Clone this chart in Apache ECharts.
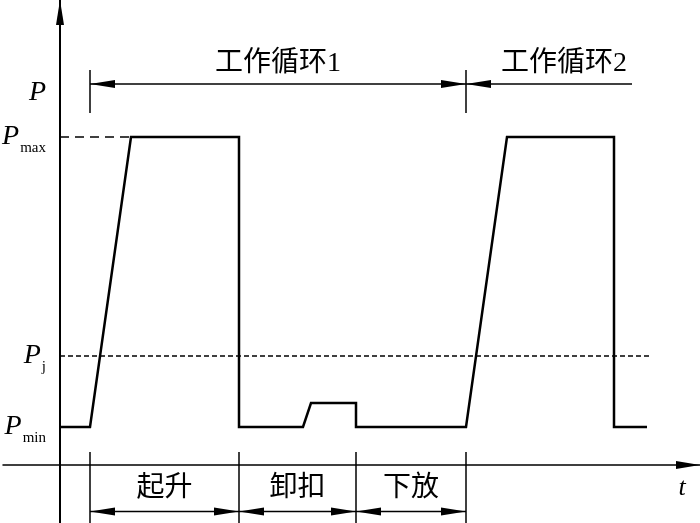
<!DOCTYPE html>
<html>
<head>
<meta charset="utf-8">
<script src="https://cdn.jsdelivr.net/npm/echarts@6/dist/echarts.min.js"></script>
<style>
  html, body { margin: 0; background: #fff; }
  #chart { width: 700px; height: 523px; }
</style>
</head>
<body>
<div id="chart"></div>
<script>
// load curve P(t), schematic units
const waveT = [0, 30, 71, 179, 179, 243, 251, 296, 296, 406, 447, 554, 554, 587];
const waveP = [38, 38, 328, 328, 38, 38, 62, 62, 38, 38, 328, 328, 38, 38];
const pMin = 38, pJ = 109, pMax = 328;
const pMaxEnd = 71, pJEnd = 591;
// y axis labels
const yLabelValues = [38, 109, 328, 372];
const yLabelSubs = ['min', 'j', 'max', ''];
// phases of one cycle (bottom) and cycles (top)
const phaseT = [30, 179, 296, 406];
const phaseNames = ['起升', '卸扣', '下放'];
const cycleT = [30, 406, 572];
const cycleNames = ['工作循环1', '工作循环2'];

const black = '#000';
const serif = 'Liberation Serif';
const cjk = '"Liberation Serif", "Noto Sans CJK SC"';

// dimension heights
const topDimP = 381, topTick = [352, 395], topTextP = 401;
const botDimP = -46.5, botTick = [-58, 13], botTextP = -24;

const dims = [];
const ticks = [];
const texts = [];
cycleNames.forEach((n, i) => {
  dims.push([cycleT[i], cycleT[i + 1], topDimP, 1, i === 0 ? 1 : 0]);
  texts.push([i === 0 ? 218 : 504, topTextP, n]);
});
[cycleT[0], cycleT[1]].forEach(t => ticks.push([t, topTick[0], topTick[1]]));
phaseNames.forEach((n, i) => {
  dims.push([phaseT[i], phaseT[i + 1], botDimP, 1, 1]);
  texts.push([(phaseT[i] + phaseT[i + 1]) / 2, botTextP, n]);
});
phaseT.forEach(t => ticks.push([t, botTick[0], botTick[1]]));

function arrow(tip, dir) {
  const L = 25, W = 8;
  return {
    type: 'polygon',
    shape: { points: [[tip[0], tip[1]], [tip[0] - dir * L, tip[1] - W / 2], [tip[0] - dir * L, tip[1] + W / 2]] },
    style: { fill: black }
  };
}

const chart = echarts.init(document.getElementById('chart'));
chart.setOption({
  animation: false,
  backgroundColor: '#fff',
  grid: { left: 3, right: 0, top: 0, bottom: 0, containLabel: false, outerBoundsMode: 'none' },
  xAxis: {
    type: 'value', min: -57, max: 640,
    axisLine: { onZero: true, lineStyle: { color: black, width: 1.5 }, symbol: ['none', 'triangle'], symbolSize: [8, 24], symbolOffset: [0, -12] },
    axisTick: { show: false }, axisLabel: { show: false }, splitLine: { show: false }
  },
  yAxis: {
    type: 'value', min: -58, max: 465,
    axisLine: { onZero: true, lineStyle: { color: black, width: 2 }, symbol: ['none', 'triangle'], symbolSize: [8, 25], symbolOffset: [0, -12.5] },
    axisTick: { show: false }, splitLine: { show: false },
    axisLabel: {
      customValues: yLabelValues,
      margin: -43,
      formatter: v => {
        const s = yLabelSubs[yLabelValues.indexOf(v)];
        return s ? '{p|P}{s|' + s + '}' : '{p|P}';
      },
      rich: {
        p: { fontFamily: serif, fontStyle: 'italic', fontSize: 28, color: black },
        s: { fontFamily: serif, fontSize: 15, color: black, verticalAlign: 'bottom', padding: [22, 0, 0, 1] }
      }
    }
  },
  series: [
    {
      type: 'line', data: waveT.map((t, i) => [t, waveP[i]]), symbol: 'none',
      lineStyle: { color: black, width: 2.5, join: 'miter', cap: 'butt' }
    },
    {
      type: 'line', data: [[0, pMax], [pMaxEnd, pMax]], symbol: 'none',
      lineStyle: { color: black, width: 1.3, type: [9, 6] }
    },
    {
      type: 'line', data: [[0, pJ], [pJEnd, pJ]], symbol: 'none',
      lineStyle: { color: black, width: 1.5, type: [5, 3] }
    },
    {
      type: 'custom', data: ticks,
      renderItem: (params, api) => {
        const a = api.coord([api.value(0), api.value(1)]);
        const b = api.coord([api.value(0), api.value(2)]);
        return { type: 'line', shape: { x1: a[0], y1: a[1], x2: b[0], y2: b[1] }, style: { stroke: black, lineWidth: 1.5 } };
      }
    },
    {
      type: 'custom', data: dims,
      renderItem: (params, api) => {
        const a = api.coord([api.value(0), api.value(2)]);
        const b = api.coord([api.value(1), api.value(2)]);
        const children = [{ type: 'line', shape: { x1: a[0], y1: a[1], x2: b[0], y2: b[1] }, style: { stroke: black, lineWidth: 1.5 } }];
        if (api.value(3)) children.push(arrow(a, -1));
        if (api.value(4)) children.push(arrow(b, 1));
        return { type: 'group', children };
      }
    },
    {
      type: 'custom', data: texts.map(d => [d[0], d[1]]),
      renderItem: (params, api) => {
        const p = api.coord([api.value(0), api.value(1)]);
        return {
          type: 'text', x: p[0], y: p[1],
          style: { text: texts[params.dataIndex][2], font: '28px ' + cjk, fill: black, align: 'center', verticalAlign: 'middle' }
        };
      }
    },
    {
      type: 'custom', data: [[622, -23]],
      renderItem: (params, api) => {
        const p = api.coord([api.value(0), api.value(1)]);
        return {
          type: 'text', x: p[0], y: p[1],
          style: { text: 't', font: 'italic 26px "Liberation Serif"', fill: black, align: 'center', verticalAlign: 'middle' }
        };
      }
    }
  ]
});
</script>
</body>
</html>
